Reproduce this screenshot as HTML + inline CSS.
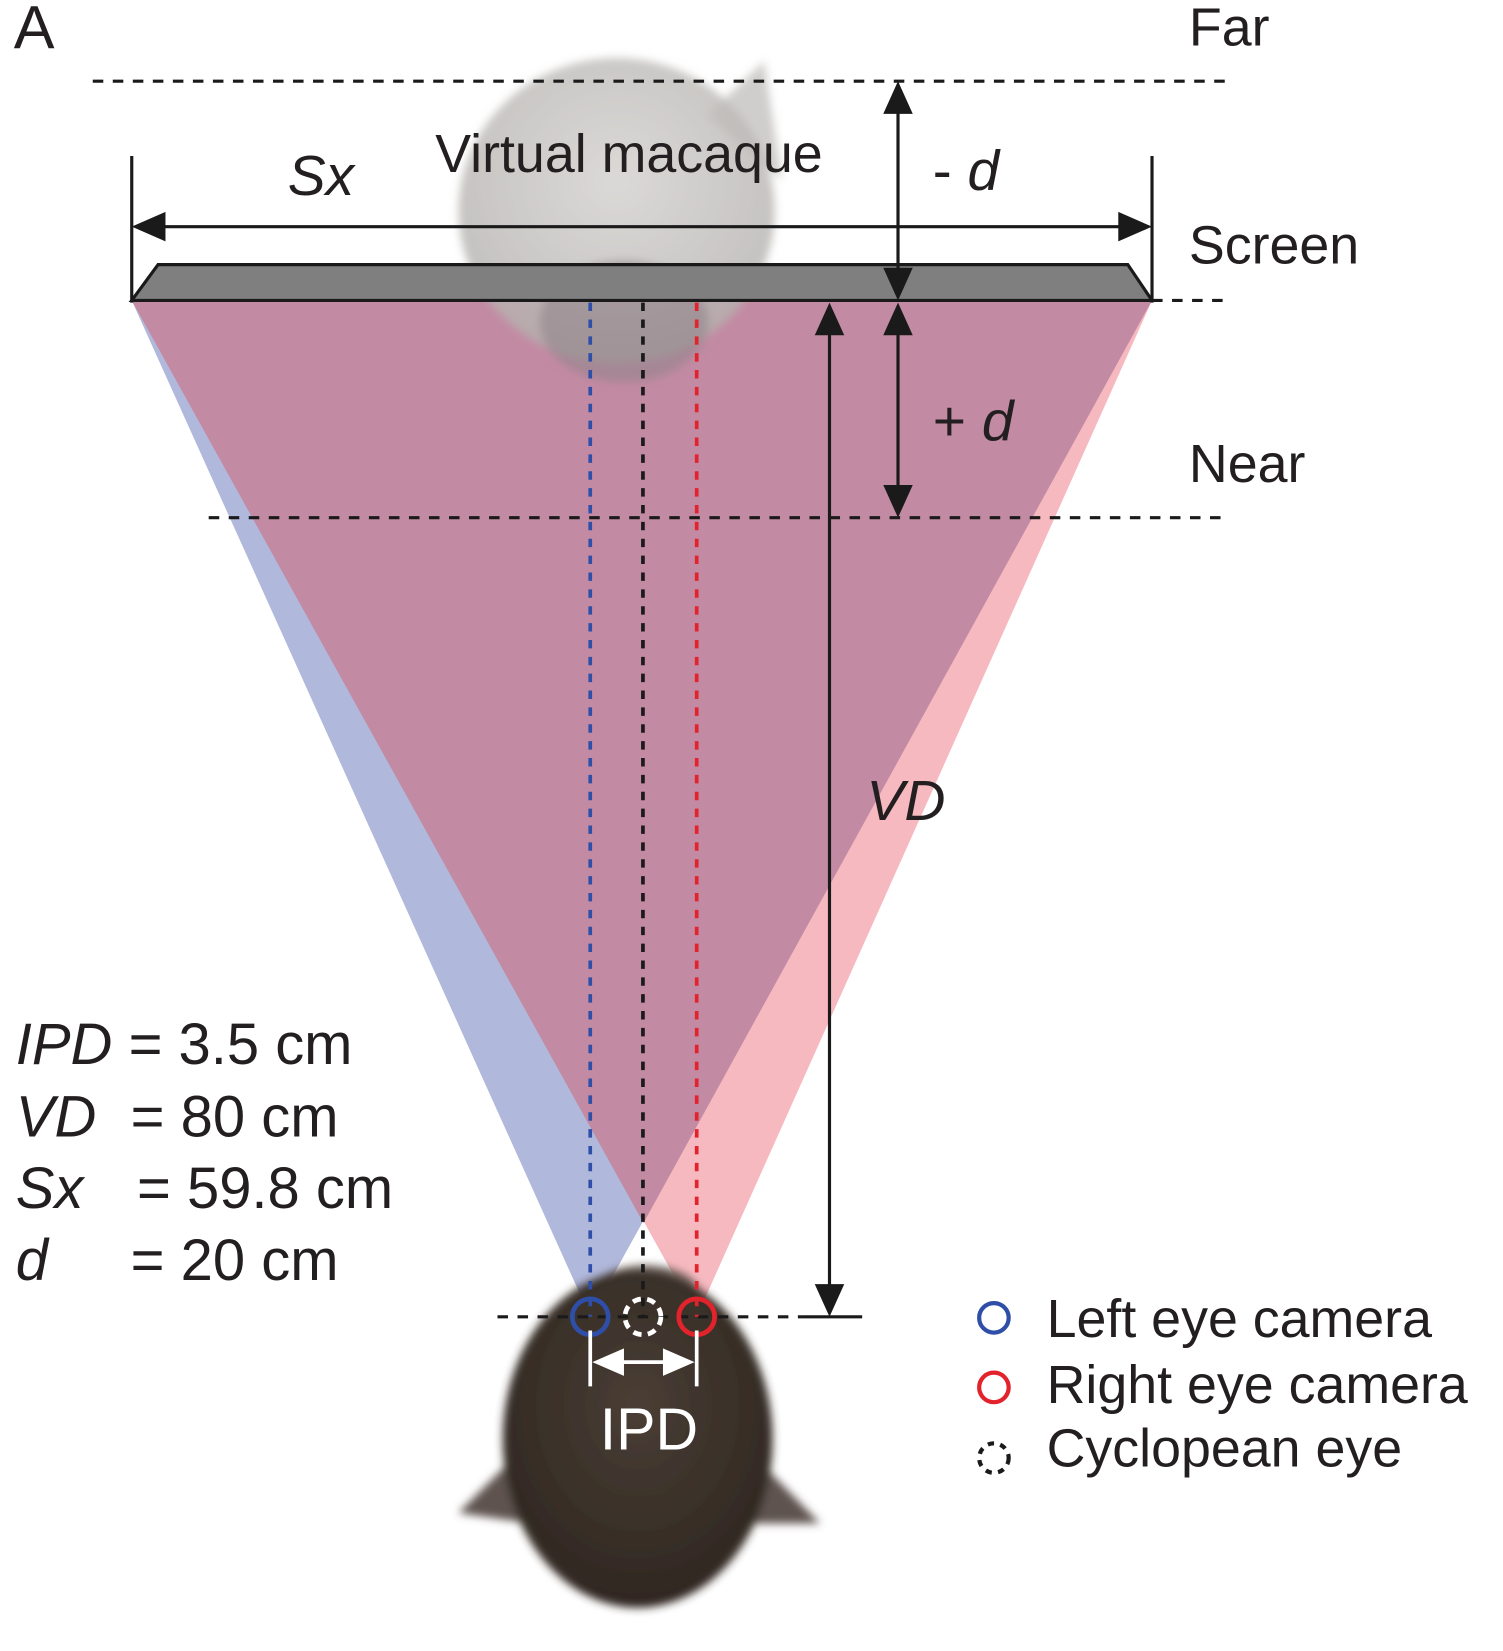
<!DOCTYPE html>
<html><head><meta charset="utf-8"><style>
html,body{margin:0;padding:0;background:#fff;}
svg{display:block;font-family:"Liberation Sans",Arial,sans-serif;}
</style></head><body>
<svg width="1503" height="1651" viewBox="0 0 1426 1566" preserveAspectRatio="none" xmlns="http://www.w3.org/2000/svg">
<defs>
<radialGradient id="ghost" cx="50%" cy="40%" r="60%"><stop offset="0" stop-color="#d2d0cd"/><stop offset="1" stop-color="#b3b0ad"/></radialGradient>
<radialGradient id="head" cx="50%" cy="40%" r="60%"><stop offset="0" stop-color="#4a3e35"/><stop offset="1" stop-color="#2f2721"/></radialGradient>
<filter id="fuzz" x="-20%" y="-20%" width="140%" height="140%"><feGaussianBlur stdDeviation="4"/></filter>
</defs>
<g id="frustums">
<polygon points="125,285 1093,285 560,1249" fill="#b0b8dc"/>
<polygon points="125,285 1093,285 661,1249" fill="#f7b9c0"/>
<polygon points="125,285 1093,285 610.5,1160" fill="#c38aa3"/>
</g>
<g filter="url(#fuzz)">
<path d="M670,110 L725,58 L742,170 Z" fill="#c8c6c3" opacity="0.85"/>
<ellipse cx="585" cy="200" rx="150" ry="145" fill="url(#ghost)" opacity="0.8"/>
<ellipse cx="592" cy="305" rx="80" ry="58" fill="#8e8389" opacity="0.55"/>
</g>
<g filter="url(#fuzz)">
<path d="M500,1370 L435,1435 L505,1445 Z" fill="#5e5250"/>
<path d="M705,1370 L778,1445 L705,1445 Z" fill="#5e5250"/>
<ellipse cx="612" cy="1228" rx="52" ry="28" fill="#6e605a"/>
<ellipse cx="605" cy="1365" rx="128" ry="160" fill="url(#head)"/>
</g>
<g stroke="#1a1a1a" stroke-width="3" fill="none">
<line x1="88" y1="77" x2="1163" y2="77" stroke-dasharray="10,9"/>
<line x1="198" y1="491" x2="1163" y2="491" stroke-dasharray="10,9"/>
<line x1="1093" y1="285" x2="1163" y2="285" stroke-dasharray="10,9"/>
<line x1="472" y1="1249" x2="760" y2="1249" stroke-dasharray="10,9"/>
<line x1="760" y1="1249" x2="818" y2="1249"/>
</g>
<polygon points="150,251 1070,251 1093,285 125,285" fill="#7f7f7f" stroke="#1a1a1a" stroke-width="3"/>
<g stroke="#1a1a1a" stroke-width="3">
<line x1="125" y1="148" x2="125" y2="287"/>
<line x1="1093" y1="148" x2="1093" y2="287"/>
<line x1="150" y1="215" x2="1068" y2="215"/>
<line x1="852" y1="95" x2="852" y2="268"/>
<line x1="852" y1="300" x2="852" y2="475"/>
<line x1="787" y1="300" x2="787" y2="1232"/>
</g>
<g fill="#1a1a1a">
<polygon points="125,215 157,201 157,229"/>
<polygon points="1093,215 1061,201 1061,229"/>
<polygon points="852,77 838,108 866,108"/>
<polygon points="852,285 838,254 866,254"/>
<polygon points="852,287 838,318 866,318"/>
<polygon points="852,491 838,460 866,460"/>
<polygon points="787,287 773,318 801,318"/>
<polygon points="787,1249 773,1218 801,1218"/>
</g>
<g stroke-width="3.5" stroke-dasharray="8,8" fill="none">
<line x1="560" y1="287" x2="560" y2="1249" stroke="#2f4ea8"/>
<line x1="610" y1="287" x2="610" y2="1249" stroke="#1a1a1a"/>
<line x1="661" y1="287" x2="661" y2="1249" stroke="#e3232c"/>
</g>
<circle cx="560" cy="1249" r="17" fill="none" stroke="#2f4ea8" stroke-width="4.5"/>
<circle cx="661" cy="1249" r="17" fill="none" stroke="#e3232c" stroke-width="4.5"/>
<circle cx="610" cy="1249" r="17" fill="none" stroke="#fff" stroke-width="4.5" stroke-dasharray="8,6"/>
<g stroke="#fff" stroke-width="3.5">
<line x1="560" y1="1262" x2="560" y2="1315"/>
<line x1="661" y1="1262" x2="661" y2="1315"/>
<line x1="575" y1="1292" x2="646" y2="1292"/>
</g>
<polygon points="562,1292 592,1279 592,1305" fill="#fff"/>
<polygon points="659,1292 629,1279 629,1305" fill="#fff"/>
<text x="569" y="1375" font-size="56" fill="#fff">IPD</text>
<g fill="#231f20" font-size="51">
<text x="13" y="46" font-size="58">A</text>
<text x="1128" y="43">Far</text>
<text x="1128" y="250">Screen</text>
<text x="1128" y="457">Near</text>
<text x="413" y="163">Virtual macaque</text>
<text x="273" y="185" font-style="italic" font-size="54">Sx</text>
<text x="885" y="180" font-size="54">- <tspan font-style="italic">d</tspan></text>
<text x="885" y="418" font-size="54">+ <tspan font-style="italic">d</tspan></text>
<text x="822" y="778" font-style="italic" font-size="54">VD</text>
</g>
<g fill="#231f20" font-size="55">
<text x="15" y="1009"><tspan font-style="italic">IPD</tspan><tspan x="122">= 3.5 cm</tspan></text>
<text x="15" y="1078"><tspan font-style="italic">VD</tspan><tspan x="124">= 80 cm</tspan></text>
<text x="15" y="1146"><tspan font-style="italic">Sx</tspan><tspan x="130">= 59.8 cm</tspan></text>
<text x="15" y="1214"><tspan font-style="italic">d</tspan><tspan x="124">= 20 cm</tspan></text>
</g>
<g font-size="51" fill="#231f20">
<circle cx="943" cy="1250" r="14" fill="none" stroke="#2f4ea8" stroke-width="4"/>
<text x="993" y="1268">Left eye camera</text>
<circle cx="943" cy="1316" r="14" fill="none" stroke="#e3232c" stroke-width="4"/>
<text x="993" y="1331">Right eye camera</text>
<circle cx="943" cy="1383" r="14" fill="none" stroke="#1a1a1a" stroke-width="4" stroke-dasharray="6,6"/>
<text x="993" y="1391">Cyclopean eye</text>
</g>
</svg>
</body></html>
